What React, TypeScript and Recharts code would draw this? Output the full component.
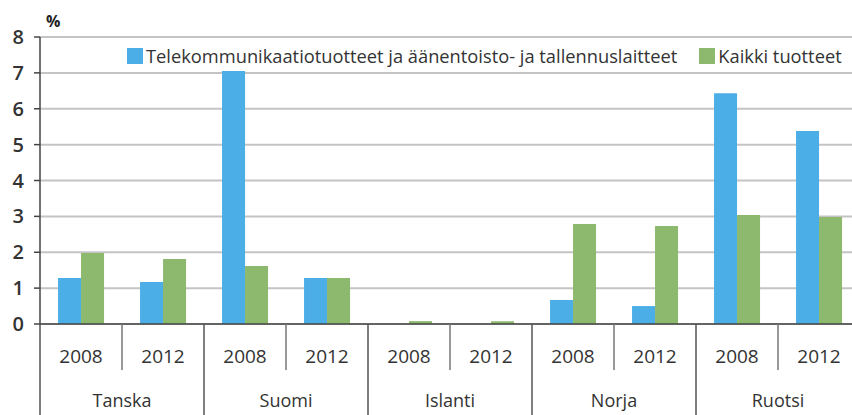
import { BarChart, Bar, XAxis, YAxis, CartesianGrid, Legend } from 'recharts';

const years = ['2008', '2012', '2008', '2012', '2008', '2012', '2008', '2012', '2008', '2012'];
const countries = ['Tanska', 'Tanska', 'Suomi', 'Suomi', 'Islanti', 'Islanti', 'Norja', 'Norja', 'Ruotsi', 'Ruotsi'];
const telecom = [1.28, 1.17, 7.05, 1.28, 0, 0, 0.67, 0.5, 6.43, 5.38];
const allProducts = [1.98, 1.81, 1.62, 1.28, 0.08, 0.08, 2.79, 2.73, 3.04, 2.98];
const yTicks = [0, 1, 2, 3, 4, 5, 6, 7, 8];

const data = years.map((year, i) => ({
  key: i,
  year,
  country: countries[i],
  telecom: telecom[i],
  all: allProducts[i],
}));

const CHART_W = 870;
const CHART_H = 415;
const MARGIN = { top: 37, right: 10, left: 0, bottom: 0 };
const Y_AXIS_W = 40;
const SLOT = (CHART_W - MARGIN.left - MARGIN.right - Y_AXIS_W) / data.length;
const FONT = '"Open Sans", sans-serif';
const BLUE = '#4BAEE6';
const GREEN = '#8CB96E';

function CategoryTick(props: any) {
  const { x, y, payload } = props;
  const i = payload.value as number;
  const d = data[i];
  const left = x - SLOT / 2;
  const firstOfGroup = i % 2 === 0;
  return (
    <g>
      <line
        x1={left}
        x2={left}
        y1={y}
        y2={firstOfGroup ? CHART_H : y + 46}
        stroke={firstOfGroup ? '#555' : '#777'}
        strokeWidth={1.5}
      />
      {i === data.length - 1 && (
        <line x1={x + SLOT / 2} x2={x + SLOT / 2} y1={y} y2={CHART_H} stroke="#555" strokeWidth={1.5} />
      )}
      <text x={x} y={y + 39} textAnchor="middle" fill="#333" fontSize={19} fontFamily={FONT}>
        {d.year}
      </text>
      {firstOfGroup && (
        <text x={x + SLOT / 2} y={y + 83} textAnchor="middle" fill="#333" fontSize={18} fontFamily={FONT}>
          {d.country}
        </text>
      )}
    </g>
  );
}

function LegendContent() {
  const items = [
    { color: BLUE, label: 'Telekommunikaatiotuotteet ja äänentoisto- ja tallennuslaitteet' },
    { color: GREEN, label: 'Kaikki tuotteet' },
  ];
  return (
    <div style={{ display: 'flex', alignItems: 'center', background: '#fff', fontFamily: FONT, fontSize: 18.3, color: '#333', whiteSpace: 'nowrap' }}>
      {items.map((it, i) => (
        <div key={i} style={{ display: 'flex', alignItems: 'center', marginRight: 22 }}>
          <span style={{ width: 16, height: 16, background: it.color, display: 'inline-block', marginRight: 3 }} />
          <span>{it.label}</span>
        </div>
      ))}
    </div>
  );
}

export default function App() {
  return (
    <div style={{ position: 'absolute', left: 0, top: 0, width: 852, height: 415, overflow: 'hidden', background: '#fff' }}>
      <div style={{ position: 'absolute', left: 46, top: 10, fontFamily: FONT, fontWeight: 'bold', fontSize: 16, color: '#222' }}>%</div>
      <BarChart
        width={CHART_W}
        height={CHART_H}
        data={data}
        margin={MARGIN}
        barCategoryGap="22%"
        barGap={0}
      >
        <CartesianGrid horizontal vertical={false} stroke="#c4c4c4" strokeWidth={2} />
        <XAxis
          dataKey="key"
          height={CHART_H - MARGIN.top - 287}
          axisLine={{ stroke: '#444', strokeWidth: 1.5 }}
          tickLine={false}
          tickSize={0}
          tickMargin={0}
          interval={0}
          tick={<CategoryTick />}
        />
        <YAxis
          width={Y_AXIS_W}
          domain={[0, 8]}
          ticks={yTicks}
          interval={0}
          axisLine={{ stroke: '#444', strokeWidth: 1.5 }}
          tickLine={{ stroke: '#444', strokeWidth: 1.5 }}
          tickSize={6}
          tickMargin={10}
          tick={{ fill: '#333', fontSize: 20, fontFamily: FONT, fontWeight: 600 }}
        />
        <Legend
          content={<LegendContent />}
          layout="horizontal"
          verticalAlign="middle"
          align="center"
          wrapperStyle={{ position: 'absolute', top: 43, left: 127, width: 'auto' }}
        />
        <Bar dataKey="telecom" fill={BLUE} isAnimationActive={false} />
        <Bar dataKey="all" fill={GREEN} isAnimationActive={false} />
      </BarChart>
    </div>
  );
}
